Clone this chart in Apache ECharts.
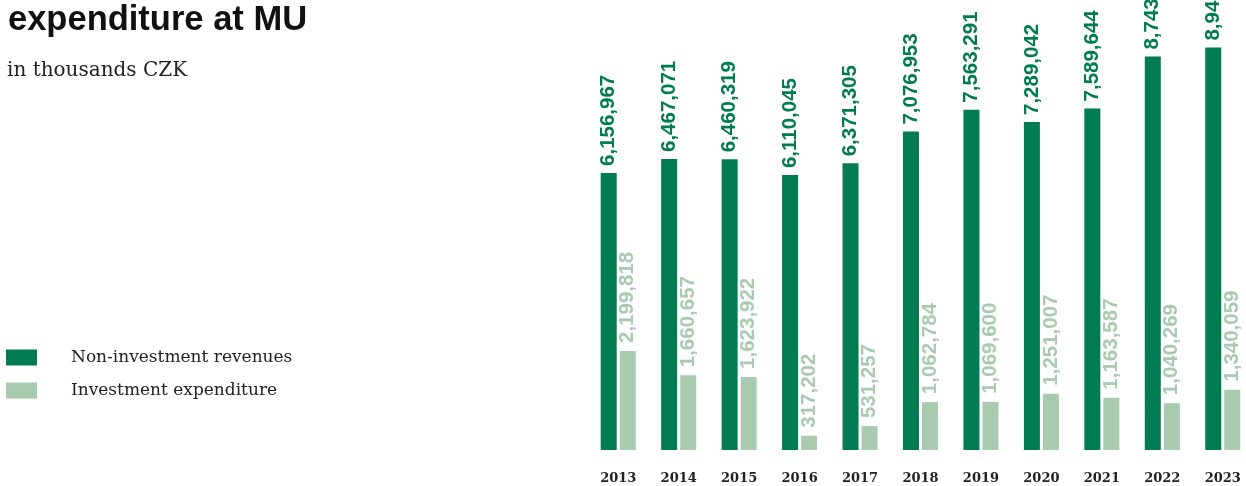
<!DOCTYPE html>
<html>
<head>
<meta charset="utf-8">
<script src="https://cdn.jsdelivr.net/npm/echarts@6/dist/echarts.min.js"></script>
<style>
html,body{margin:0;padding:0;background:#fff;overflow:hidden;}
#c{width:1256px;height:486px;}
</style>
</head>
<body>
<div id="c"></div>
<script>
const years = ['2013','2014','2015','2016','2017','2018','2019','2020','2021','2022','2023'];
const nonInvestmentRevenues = [6156967, 6467071, 6460319, 6110045, 6371305, 7076953, 7563291, 7289042, 7589644, 8743000, 8942000];
const investmentExpenditure = [2199818, 1660657, 1623922, 317202, 531257, 1062784, 1069600, 1251007, 1163587, 1040269, 1340059];
const seriesNames = ['Non-investment revenues', 'Investment expenditure'];

const DARK = '#007B52';
const LIGHT = '#A8CBAF';
const fmt = v => v.toLocaleString('en-US');

const chart = echarts.init(document.getElementById('c'));
chart.setOption({
  animation: false,
  backgroundColor: '#fff',
  title: [{
    text: 'expenditure at MU',
    left: 3, top: -2,
    textStyle: {fontFamily: 'Liberation Sans', fontWeight: 'bold', fontSize: 34.5, color: '#111'}
  }, {
    text: 'in thousands CZK',
    left: 2, top: 56,
    textStyle: {fontFamily: 'DejaVu Serif', fontWeight: 'normal', fontSize: 20, color: '#222'}
  }],
  legend: {
    orient: 'vertical',
    left: 6, top: 349,
    padding: 0,
    itemWidth: 31, itemHeight: 16, itemGap: 16,
    icon: 'rect',
    textStyle: {fontFamily: 'DejaVu Serif', fontSize: 17, color: '#222', padding: [0, 0, 0, 29]},
    data: seriesNames
  },
  grid: {left: 588, width: 665, top: 0, bottom: 36},
  xAxis: {
    type: 'category',
    data: years,
    axisLine: {show: false},
    axisTick: {show: false},
    axisLabel: {margin: 22, fontFamily: 'DejaVu Serif', fontWeight: 'bold', fontSize: 13, color: '#222'}
  },
  yAxis: {
    type: 'value', min: 0, max: 10000000,
    show: false,
    splitLine: {show: false}
  },
  series: [{
    name: seriesNames[0],
    type: 'bar',
    data: nonInvestmentRevenues,
    barWidth: 16,
    barGap: '19%',
    itemStyle: {color: DARK},
    label: {
      show: true, position: 'top', rotate: 90, distance: 7,
      align: 'left', verticalAlign: 'middle',
      formatter: p => fmt(p.value),
      fontFamily: 'Liberation Sans', fontWeight: 'bold', fontSize: 20.5, color: DARK
    }
  }, {
    name: seriesNames[1],
    type: 'bar',
    data: investmentExpenditure,
    barWidth: 16,
    itemStyle: {color: LIGHT},
    label: {
      show: true, position: 'top', rotate: 90, distance: 8,
      align: 'left', verticalAlign: 'middle',
      formatter: p => fmt(p.value),
      fontFamily: 'Liberation Sans', fontWeight: 'bold', fontSize: 20.5, color: LIGHT
    }
  }]
});
</script>
</body>
</html>
